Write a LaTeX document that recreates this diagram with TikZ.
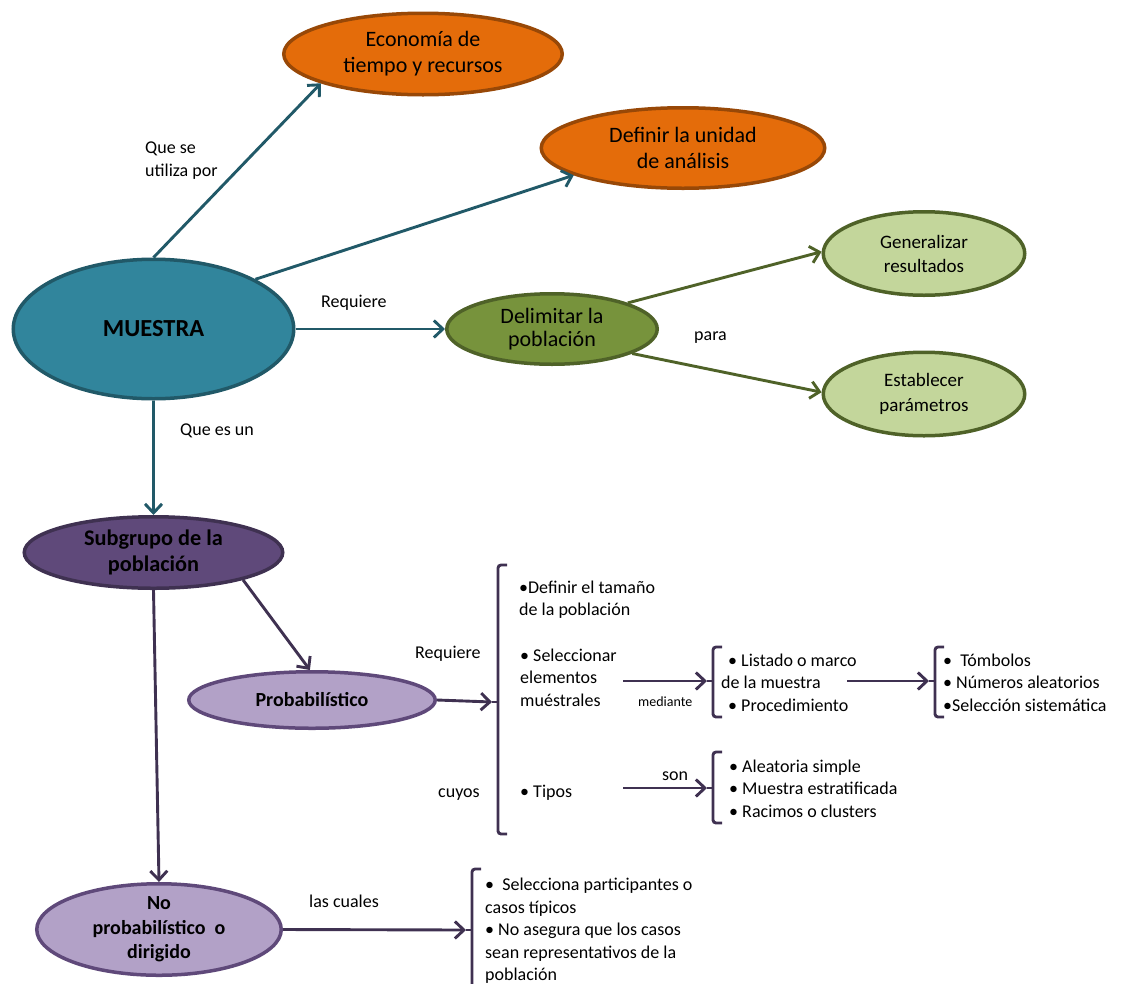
\documentclass[tikz,border=0pt]{standalone}
\usepackage{fontspec}
\setmainfont{Carlito}
\usetikzlibrary{arrows.meta,shapes.geometric}
\definecolor{tealfill}{HTML}{31859C}
\definecolor{tealdraw}{HTML}{215968}
\definecolor{orfill}{HTML}{E46C0A}
\definecolor{ordraw}{HTML}{984807}
\definecolor{gfill}{HTML}{77933C}
\definecolor{gdraw}{HTML}{4F6228}
\definecolor{lgfill}{HTML}{C3D69B}
\definecolor{pfill}{HTML}{5F497A}
\definecolor{pdraw}{HTML}{3F3151}
\definecolor{lpfill}{HTML}{B2A1C7}
\newcommand\myfs[2]{\fontsize{#1}{#2}\selectfont}
\newcommand\mybrk[5]{%
  \draw[brk] (#1+9,#2) -- (#1,#2) -- (#1,#3) -- (#1+9,#3);
  \draw[brk,rounded corners=0pt] (#1,#4) -- (#1-6,#4) coordinate (#5);}
\begin{document}
\begin{tikzpicture}[x=1pt,y=-1pt,
  ell/.style={ellipse, line width=3.5pt, inner sep=-6pt, align=center, text=black},
  arr/.style={line width=2.9pt, -{Straight Barb[length=9pt,width=17pt]}},
  tarr/.style={arr, draw=tealdraw},
  garr/.style={arr, draw=gdraw},
  parr/.style={arr, draw=pdraw},
  brk/.style={line width=2.9pt, draw=pdraw, rounded corners=3pt},
  lbl/.style={inner sep=0pt, anchor=base west, font=\myfs{18}{23}},
  blk/.style={inner sep=0pt, anchor=north west, align=left, font=\myfs{18}{22.5}}]
\useasboundingbox (0,0) rectangle (1121,983);

% ellipses
\node[ell, fill=tealfill, draw=tealdraw, minimum width=280.5pt, minimum height=139.5pt,
  font=\myfs{24.5}{28}\bfseries] (mu) at (153.5,329) {MUESTRA};
\node[ell, fill=orfill, draw=ordraw, minimum width=278.5pt, minimum height=81.5pt,
  font=\myfs{22}{26}] (eco) at (423,54) {Economía de\\tiempo y recursos};
\node[ell, fill=orfill, draw=ordraw, minimum width=283.5pt, minimum height=80.5pt,
  font=\myfs{22}{26}] (def) at (683,148) {Definir la unidad\\de análisis};
\node[ell, fill=gfill, draw=gdraw, minimum width=210.5pt, minimum height=70.5pt,
  font=\myfs{22}{23}] (del) at (552,329) {Delimitar la\\población};
\node[ell, fill=lgfill, draw=gdraw, minimum width=201.5pt, minimum height=83.5pt,
  font=\myfs{19}{24}] (gen) at (924,253.5) {Generalizar\\resultados};
\node[ell, fill=lgfill, draw=gdraw, minimum width=201.5pt, minimum height=83.5pt,
  font=\myfs{19}{25}] (est) at (924,394) {Establecer\\parámetros};
\node[ell, fill=pfill, draw=pdraw, minimum width=258.5pt, minimum height=71.5pt,
  font=\myfs{22.3}{26}\bfseries] (sub) at (153.5,552.5) {Subgrupo de la\\población};
\node[ell, fill=lpfill, draw=pfill, minimum width=246.5pt, minimum height=56.5pt,
  font=\myfs{20}{24}\bfseries] (prob) at (312,700) {Probabilístico};
\node[ell, fill=lpfill, draw=pfill, minimum width=244.5pt, minimum height=91.5pt,
  inner ysep=-14pt, font=\myfs{20}{24.5}\bfseries] (np) at (159,929.5) {No\\probabilístico\ \ o\\dirigido};

% brackets
\mybrk{498}{565}{834}{702}{b1}
\mybrk{713}{647}{717}{681}{b2}
\mybrk{935}{647}{717}{681}{b3}
\mybrk{713}{752}{823}{788}{b4}
\mybrk{472}{869}{995}{930}{b5}

% text blocks
\node[blk] (t1a) at (519,580.5) {•Definir el tamaño\\de la población};
\node[blk] (t1b) at (520,648.5) {• Seleccionar\\elementos\\muéstrales};
\node[lbl] (t1c) at (520,797) {• Tipos};
\node[blk] (t2) at (721,653.5) {\hspace*{7pt}• Listado o marco\\de la muestra\\\hspace*{7pt}• Procedimiento};
\node[blk] (t3) at (943,653.5) {•\ \ Tómbolos\\• Números aleatorios\\•Selección sistemática};
\node[blk] (t4) at (729,759.5) {• Aleatoria simple\\• Muestra estratificada\\• Racimos o clusters};
\node[blk] (t5) at (485,878) {•\ \ Selecciona participantes o\\casos típicos\\• No asegura que los casos\\sean representativos de la\\población};

% connector labels
\node[blk, font=\myfs{18}{23}] (l1) at (145,142) {Que se\\utiliza por};
\node[lbl] (l2) at (321,307) {Requiere};
\node[lbl] (l3) at (180,435) {Que es un};
\node[lbl] (l4) at (694,340) {para};
\node[lbl] (l5) at (415,658) {Requiere};
\node[lbl] (l6) at (438,797) {cuyos};
\node[lbl, font=\myfs{14}{17}] (l7) at (638,706) {mediante};
\node[lbl] (l8) at (662,780) {son};
\node[lbl] (l9) at (309,907) {las cuales};

% arrow start points
\coordinate (a1) at (623,681);
\coordinate (a2) at (847,681);
\coordinate (a3) at (623,788);

% connectors
\draw[tarr] (mu.north) -- (eco.196);
\draw[tarr] (mu.26.8) -- (def.194.7);
\draw[tarr] (mu.east) -- (del.west);
\draw[tarr] (mu.south) -- (sub.north);
\draw[garr] (del.19.8) -- (gen.179);
\draw[garr] (del.343.8) -- (est.179);
\draw[parr] (sub.343.7) -- (prob.94);
\draw[parr] (sub.south) -- (np.north);
\draw[parr] (prob.east) -- (b1);
\draw[parr] (np.east) -- (b5);
\draw[parr] (a1) -- (b2);
\draw[parr] (a2) -- (b3);
\draw[parr] (a3) -- (b4);
\end{tikzpicture}
\end{document}
